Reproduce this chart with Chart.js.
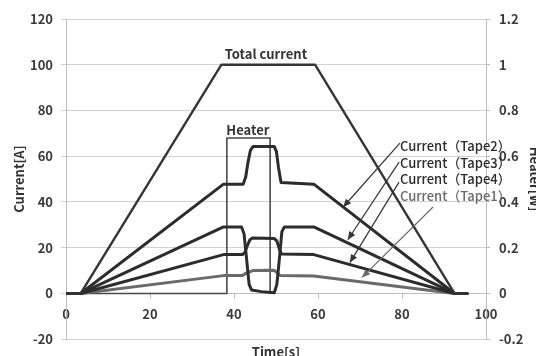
<!DOCTYPE html>
<html>
<head>
<meta charset="utf-8">
<script src="https://cdn.jsdelivr.net/npm/chart.js@4.4.1/dist/chart.umd.min.js"></script>
<style>
  html, body { margin: 0; padding: 0; background: #fff; }
  canvas { display: block; }
</style>
</head>
<body>
<canvas id="c" width="536" height="356"></canvas>
<script>
// Time axis ticks [s] and value axes ticks
const timeTicks = [0, 20, 40, 60, 80, 100];
const currentTicks = [-20, 0, 20, 40, 60, 80, 100, 120];
const heaterTicks = [-0.2, 0, 0.2, 0.4, 0.6, 0.8, 1, 1.2];

// Total transport current [A]
const totalTime    = [0, 3.5, 37, 59.3, 92.5, 95.5];
const totalCurrent = [0, 0, 100, 100, 0, 0];

// Tape currents [A]
const tape2Time    = [0, 3.5, 37.5, 42.2, 42.8, 43.3, 43.9, 44.5, 49.6, 50.1, 50.6, 51.2, 59, 92.5, 95.5];
const tape2Current = [0, 0, 47.8, 47.8, 51, 57, 62.5, 64.2, 64.2, 62, 55, 48.5, 47.8, 0, 0];

const tape3Time    = [0, 3.5, 37.5, 41.8, 42.4, 43, 43.6, 44.2, 46.5, 49.6, 50.2, 50.8, 51.4, 52, 59, 92.5, 95.5];
const tape3Current = [0, 0, 29.1, 29.1, 26, 15, 4, 1.5, 0.8, 0.3, 4, 15, 27, 29.1, 29.1, 0, 0];

const tape4Time    = [0, 3.5, 37.5, 42, 42.6, 43.2, 43.8, 44.4, 49.6, 50.2, 50.8, 51.3, 59, 92.5, 95.5];
const tape4Current = [0, 0, 17, 17, 18, 21, 23.5, 24.3, 24, 23, 19.5, 17.2, 17, 0, 0];

const tape1Time    = [0, 3.5, 37.5, 42, 43, 44.5, 49.5, 50.3, 51, 59, 92.5, 95.5];
const tape1Current = [0, 0, 7.8, 7.8, 9, 10, 10.2, 9, 7.8, 7.6, 0, 0];

// Heater power [W]
const heaterTime  = [0, 38.3, 38.3, 48.6, 48.6];
const heaterPower = [0, 0, 0.68, 0.68, 0];

// Text notes and arrows, in (time, current) units
const notes = [
  { text: 'Total current',    t: 47.6, c: 104.8, align: 'center', weight: 'bold', color: '#333' },
  { text: 'Heater',           t: 43.3, c: 71.3,  align: 'center', weight: 'bold', color: '#333' },
  { text: 'Current（Tape2）', t: 79.5, c: 64.6,  align: 'left',   weight: '500',  color: '#2a2a2a' },
  { text: 'Current（Tape3）', t: 79.5, c: 57.0,  align: 'left',   weight: '500',  color: '#2a2a2a' },
  { text: 'Current（Tape4）', t: 79.5, c: 49.8,  align: 'left',   weight: '500',  color: '#2a2a2a' },
  { text: 'Current（Tape1）', t: 79.5, c: 42.6,  align: 'left',   weight: '500',  color: '#6a6a6a' }
];
const arrows = [
  { from: [79.5, 65.7], to: [66.0, 37.8], color: '#333' },
  { from: [79.3, 57.4], to: [67.1, 23.5], color: '#333' },
  { from: [79.3, 48.7], to: [67.6, 13.5], color: '#333' },
  { from: [87.4, 37.8], to: [70.5, 7.0],  color: '#6a6a6a' }
];

function pts(xs, ys) { return xs.map((x, i) => ({ x: x, y: ys[i] })); }

const FONT = '"Noto Sans CJK JP", "Noto Sans", sans-serif';
const tickFont = { family: FONT, size: 13, weight: 'bold' };
const tickColor = '#3a3a3a';
const axisGray = '#bdbdbd';

const whiteBg = {
  id: 'whiteBg',
  beforeDraw(chart) {
    const ctx = chart.ctx;
    ctx.save();
    ctx.fillStyle = '#fff';
    ctx.fillRect(0, 0, chart.width, chart.height);
    ctx.restore();
  }
};

const notesPlugin = {
  id: 'notes',
  afterDatasetsDraw(chart) {
    const ctx = chart.ctx;
    const xs = chart.scales.x, ys = chart.scales.y;
    ctx.save();
    arrows.forEach(a => {
      const x1 = xs.getPixelForValue(a.from[0]), y1 = ys.getPixelForValue(a.from[1]);
      const x2 = xs.getPixelForValue(a.to[0]),   y2 = ys.getPixelForValue(a.to[1]);
      ctx.strokeStyle = a.color;
      ctx.fillStyle = a.color;
      ctx.lineWidth = 1.2;
      ctx.beginPath();
      ctx.moveTo(x1, y1);
      ctx.lineTo(x2, y2);
      ctx.stroke();
      const ang = Math.atan2(y2 - y1, x2 - x1);
      const L = 8, W = 3.5;
      ctx.beginPath();
      ctx.moveTo(x2, y2);
      ctx.lineTo(x2 - L * Math.cos(ang) + W * Math.sin(ang), y2 - L * Math.sin(ang) - W * Math.cos(ang));
      ctx.lineTo(x2 - L * Math.cos(ang) - W * Math.sin(ang), y2 - L * Math.sin(ang) + W * Math.cos(ang));
      ctx.closePath();
      ctx.fill();
    });
    notes.forEach(n => {
      ctx.font = n.weight + ' 13px ' + FONT;
      ctx.fillStyle = n.color;
      ctx.textAlign = n.align;
      ctx.textBaseline = 'middle';
      ctx.fillText(n.text, xs.getPixelForValue(n.t), ys.getPixelForValue(n.c));
    });
    ctx.restore();
  }
};

function line(data, color, width) {
  return {
    data: data,
    borderColor: color,
    backgroundColor: color,
    borderWidth: width,
    pointRadius: 0,
    fill: false,
    tension: 0,
    borderJoinStyle: 'round',
    borderCapStyle: 'round'
  };
}

new Chart(document.getElementById('c'), {
  type: 'line',
  data: {
    datasets: [
      Object.assign(line(pts(totalTime, totalCurrent), '#353535', 2.4), { label: 'Total current', yAxisID: 'y' }),
      Object.assign(line(pts(tape2Time, tape2Current), '#2c2c2c', 3), { label: 'Current（Tape2）', yAxisID: 'y' }),
      Object.assign(line(pts(tape3Time, tape3Current), '#2c2c2c', 3), { label: 'Current（Tape3）', yAxisID: 'y' }),
      Object.assign(line(pts(tape4Time, tape4Current), '#2c2c2c', 3), { label: 'Current（Tape4）', yAxisID: 'y' }),
      Object.assign(line(pts(tape1Time, tape1Current), '#6a6a6a', 3), { label: 'Current（Tape1）', yAxisID: 'y' }),
      Object.assign(line(pts(heaterTime, heaterPower), '#4a4a4a', 1.6), { label: 'Heater', yAxisID: 'y2' })
    ]
  },
  options: {
    responsive: false,
    animation: false,
    devicePixelRatio: 1,
    layout: { padding: { top: 19, right: 0, left: 0, bottom: 0 } },
    plugins: { legend: { display: false }, tooltip: { enabled: false } },
    scales: {
      x: {
        type: 'linear',
        min: timeTicks[0],
        max: timeTicks[timeTicks.length - 1],
        position: { y: 0 },
        afterBuildTicks: s => { s.ticks = timeTicks.map(v => ({ value: v })); },
        ticks: { font: tickFont, color: tickColor, padding: 8, maxRotation: 0 },
        grid: { drawOnChartArea: false, drawTicks: true, tickLength: 5, color: axisGray },
        border: { color: axisGray, width: 1 }
      },
      xTitle: {
        type: 'linear',
        axis: 'x',
        position: 'bottom',
        min: 0, max: 100,
        ticks: { display: false },
        grid: { display: false },
        border: { display: false },
        title: { display: true, text: 'Time[s]', color: '#333', font: { family: FONT, size: 13, weight: 'bold' }, padding: { top: 0, bottom: -5 } },
        afterFit: s => { s.height = 16; }
      },
      y: {
        type: 'linear',
        position: 'left',
        min: currentTicks[0],
        max: currentTicks[currentTicks.length - 1],
        afterBuildTicks: s => { s.ticks = currentTicks.map(v => ({ value: v })); },
        ticks: { font: tickFont, color: tickColor, padding: 8 },
        grid: { color: '#d2d2d2', tickLength: 5, lineWidth: 1 },
        border: { color: axisGray, width: 1 },
        title: { display: true, text: 'Current[A]', color: '#333', font: { family: FONT, size: 13, weight: 'bold' }, padding: { top: 11, bottom: 0 } },
        afterFit: s => { s.width = 66; }
      },
      y2: {
        type: 'linear',
        position: 'right',
        min: heaterTicks[0],
        max: heaterTicks[heaterTicks.length - 1],
        afterBuildTicks: s => { s.ticks = heaterTicks.map(v => ({ value: v })); },
        ticks: { font: tickFont, color: tickColor, padding: 9, callback: v => String(Math.round(v * 10) / 10) },
        grid: { drawOnChartArea: false, tickLength: 4, color: axisGray },
        border: { color: axisGray, width: 1 },
        title: { display: true, text: 'Heater[W]', color: '#333', font: { family: FONT, size: 13, weight: 'bold' }, padding: { top: -7, bottom: 0 } },
        afterFit: s => { s.width = 50; }
      }
    }
  },
  plugins: [whiteBg, notesPlugin]
});
</script>
</body>
</html>
